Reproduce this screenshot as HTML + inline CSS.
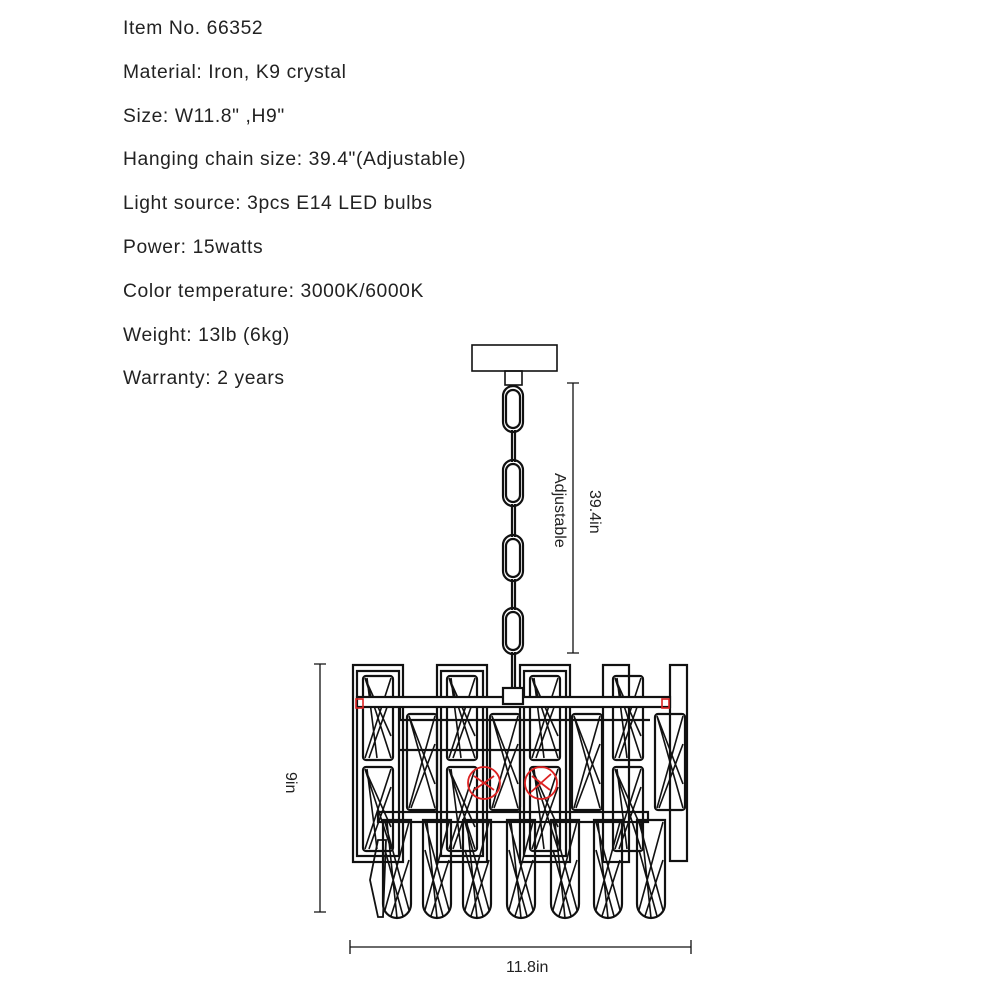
<!DOCTYPE html>
<html><head><meta charset="utf-8"><style>
body{margin:0;background:#fff;width:1000px;height:1000px;overflow:hidden;font-family:"Liberation Sans",sans-serif;}
.t{position:absolute;left:123px;font-size:19.3px;letter-spacing:0.6px;color:#222;}
</style></head><body>
<div class="t" style="top:18px">Item No. 66352</div>
<div class="t" style="top:62px">Material: Iron, K9 crystal</div>
<div class="t" style="top:106px">Size: W11.8" ,H9"</div>
<div class="t" style="top:149px">Hanging chain size: 39.4"(Adjustable)</div>
<div class="t" style="top:193px">Light source: 3pcs E14 LED bulbs</div>
<div class="t" style="top:237px">Power: 15watts</div>
<div class="t" style="top:281px">Color temperature: 3000K/6000K</div>
<div class="t" style="top:325px">Weight: 13lb (6kg)</div>
<div class="t" style="top:368px">Warranty: 2 years</div>
<svg width="1000" height="1000" style="position:absolute;left:0;top:0" fill="none" stroke="#111" stroke-width="2.2">
<defs>
<g id="cr"><rect x="0" y="0" width="30" height="84" rx="3"/><path d="M2 2L28 82M28 2L2 82M2 2L28 60M4 2L14 82M28 20L6 82" stroke-width="1.6"/></g>
<g id="cr2"><rect x="0" y="0" width="30" height="96" rx="3"/><path d="M2 2L28 94M28 2L2 94M2 2L28 70M28 30L4 94" stroke-width="1.6"/></g>
<g id="td"><path d="M0 0H28V84A14 14 0 0 1 0 84Z"/><path d="M2 2L26 90M26 2L2 90M2 30L20 96M26 40L8 96M4 2L14 98" stroke-width="1.6"/></g>
<g id="fr"><rect x="0" y="0" width="50" height="197"/><rect x="4" y="6" width="42" height="185"/></g>
</defs>
<rect x="472" y="345" width="85" height="26" stroke-width="1.6"/>
<rect x="505" y="371" width="17" height="14" stroke-width="1.6"/>
<g stroke-width="2.2">
<rect x="503" y="386" width="20" height="46" rx="10"/><rect x="506" y="390" width="14" height="38" rx="7"/>
<rect x="503" y="460" width="20" height="46" rx="10"/><rect x="506" y="464" width="14" height="38" rx="7"/>
<rect x="503" y="535" width="20" height="46" rx="10"/><rect x="506" y="539" width="14" height="38" rx="7"/>
<rect x="503" y="608" width="20" height="46" rx="10"/><rect x="506" y="612" width="14" height="38" rx="7"/>
<path d="M512 430V462M515 430V462M512 504V537M515 504V537M512 579V610M515 579V610M512 652V690M515 652V690"/>
</g>
<path d="M573 383V653M567 383H579M567 653H579M320 664V912M314 664H326M314 912H326M350 947H691M350 940V954M691 940V954" stroke-width="1.3"/>
<text x="590" y="490" transform="rotate(90 590 490)" font-size="16" fill="#222" stroke="none" font-family="Liberation Sans">39.4in</text>
<text x="555" y="473" transform="rotate(90 555 473)" font-size="16" fill="#222" stroke="none" font-family="Liberation Sans">Adjustable</text>
<text x="286" y="772" transform="rotate(90 286 772)" font-size="16" fill="#222" stroke="none" font-family="Liberation Sans">9in</text>
<text x="506" y="972" font-size="16" fill="#222" stroke="none" font-family="Liberation Sans">11.8in</text>
<use href="#fr" x="353" y="665"/><use href="#fr" x="437" y="665"/><use href="#fr" x="520" y="665"/>
<rect x="603" y="665" width="26" height="197"/>
<rect x="670" y="665" width="17" height="196"/>
<use href="#cr" x="363" y="676"/><use href="#cr" x="447" y="676"/><use href="#cr" x="530" y="676"/><use href="#cr" x="613" y="676"/>
<use href="#cr" x="363" y="767"/><use href="#cr" x="447" y="767"/><use href="#cr" x="530" y="767"/><use href="#cr" x="613" y="767"/>
<rect x="357" y="697" width="313" height="10" fill="#fff"/>
<path d="M400 707V720H650M400 750H560"/>
<use href="#cr2" x="407" y="714"/><use href="#cr2" x="490" y="714"/><use href="#cr2" x="572" y="714"/><use href="#cr2" x="655" y="714"/>
<rect x="503" y="688" width="20" height="16" fill="#fff"/>
<rect x="356" y="699" width="7" height="9" stroke="#d22" stroke-width="1.6"/><rect x="662" y="699" width="7" height="9" stroke="#d22" stroke-width="1.6"/>
<g stroke="#d22" stroke-width="1.8"><circle cx="484" cy="783" r="16"/><circle cx="541" cy="783" r="16"/><path d="M474 776L494 790M474 790L494 776M531 792L551 774M532 776L550 790"/></g>
<rect x="378" y="812" width="270" height="10"/>
<use href="#td" x="383" y="820"/><use href="#td" x="423" y="820"/><use href="#td" x="463" y="820"/><use href="#td" x="507" y="820"/><use href="#td" x="551" y="820"/><use href="#td" x="594" y="820"/><use href="#td" x="637" y="820"/>
<path d="M378 840L370 880L378 917L383 917L386 840Z" stroke-width="1.8"/>
</svg>
</body></html>
